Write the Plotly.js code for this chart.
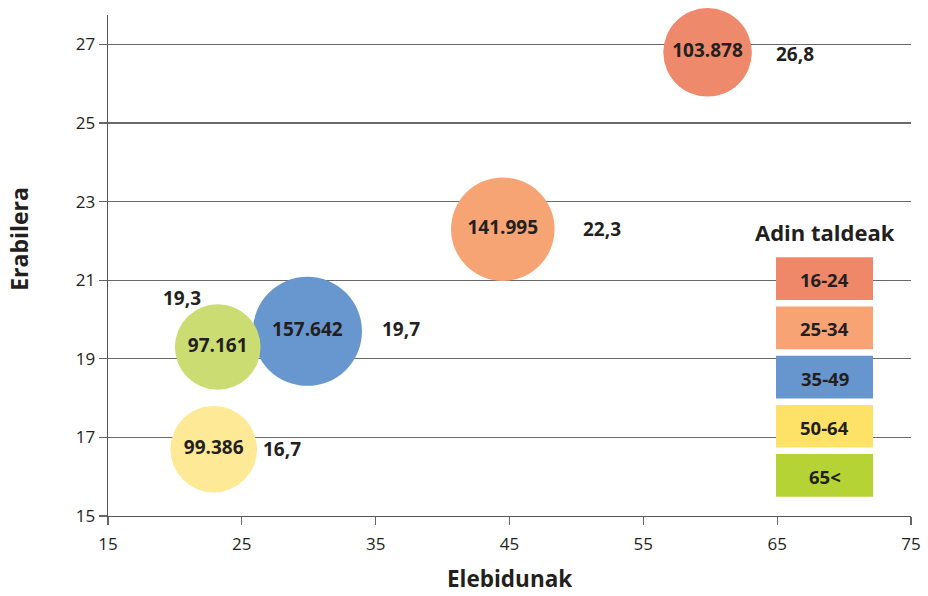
<!DOCTYPE html>
<html>
<head>
<meta charset="utf-8">
<script src="https://cdn.plot.ly/plotly-3.0.1.min.js"></script>
<style>
html,body{margin:0;padding:0;background:#fff;}
#chart{width:928px;height:596px;}
</style>
</head>
<body>
<div id="chart"></div>
<script>
// ---- data ----
const groups = ['16-24', '25-34', '35-49', '50-64', '65<'];
const elebidunak = [59.8, 44.5, 29.9, 22.9, 23.2];
const erabilera = [26.8, 22.3, 19.7, 16.7, 19.3];
const population = [103878, 141995, 157642, 99386, 97161];

// ---- style ----
const bubbleColors = ['#EE8A6B', '#F7A475', '#6896CE', '#FEEA96', '#CADC72'];
const legendColors = ['#EE8868', '#F7A374', '#6795CD', '#FEE268', '#B5D334'];
const labelShift = [[87, -2], [99, 0], [94, 2], [68, 0], [-36, 49]];
const txt = '#231F20';
const FONT = 'Open Sans, Noto Sans, sans-serif';

function fmtThousands(v) {
  return String(v).replace(/\B(?=(\d{3})+(?!\d))/g, '.');
}
function fmtDecimal(v) {
  return v.toFixed(1).replace('.', ',');
}

const trace = {
  type: 'scatter',
  mode: 'markers+text',
  x: elebidunak,
  y: erabilera,
  text: population.map(fmtThousands),
  textposition: 'middle center',
  textfont: {family: FONT, size: 19, color: txt, weight: 'bold'},
  marker: {
    size: population,
    sizemode: 'area',
    sizeref: 26.5,
    color: bubbleColors,
    opacity: 1,
    line: {width: 0}
  },
  hoverinfo: 'skip',
  cliponaxis: false,
  showlegend: false
};

const annotations = [];
groups.forEach((g, i) => {
  annotations.push({
    x: elebidunak[i], y: erabilera[i], xref: 'x', yref: 'y',
    xanchor: 'center', yanchor: 'middle',
    text: '<b>' + fmtDecimal(erabilera[i]) + '</b>',
    showarrow: false,
    xshift: labelShift[i][0], yshift: labelShift[i][1],
    font: {family: FONT, size: 19, color: txt}
  });
});

// Axis titles
annotations.push({
  xref: 'paper', yref: 'paper', x: 0.5, y: -0.124, xanchor: 'center', yanchor: 'middle',
  text: '<b>Elebidunak</b>', showarrow: false,
  font: {family: FONT, size: 22.5, color: txt}
});
annotations.push({
  xref: 'paper', yref: 'paper', x: -0.111, y: 0.553, xanchor: 'center', yanchor: 'middle',
  text: '<b>Erabilera</b>', showarrow: false, textangle: -90,
  font: {family: FONT, size: 23, color: txt}
});

// Custom legend (paper coordinates)
const plotL = 108, plotW = 803, plotT = 15, plotH = 501;
const px2x = p => (p - plotL) / plotW;
const px2y = p => (plotT + plotH - p) / plotH;
const boxL = 776, boxR = 873, boxTop0 = 257.3, boxH = 42.7, boxPitch = 49.2;
const shapes = [];
annotations.push({
  xref: 'paper', yref: 'paper', x: px2x((boxL + boxR) / 2), y: px2y(232),
  xanchor: 'center', yanchor: 'middle', text: '<b>Adin taldeak</b>', showarrow: false,
  font: {family: FONT, size: 22, color: txt}
});
groups.forEach((g, i) => {
  const top = boxTop0 + i * boxPitch;
  shapes.push({
    type: 'rect', xref: 'paper', yref: 'paper', layer: 'above',
    x0: px2x(boxL), x1: px2x(boxR), y0: px2y(top + boxH), y1: px2y(top),
    fillcolor: legendColors[i], line: {width: 0}
  });
  annotations.push({
    xref: 'paper', yref: 'paper', x: px2x((boxL + boxR) / 2), y: px2y(top + boxH / 2 + 1),
    xanchor: 'center', yanchor: 'middle', text: '<b>' + g + '</b>', showarrow: false,
    font: {family: FONT, size: 18.5, color: txt}
  });
});

const layout = {
  width: 928, height: 596,
  margin: {l: plotL, r: 928 - plotL - plotW, t: plotT, b: 596 - plotT - plotH, pad: 0},
  paper_bgcolor: '#fff', plot_bgcolor: '#fff',
  showlegend: false,
  xaxis: {
    range: [15, 75], tickvals: [15, 25, 35, 45, 55, 65, 75],
    showgrid: false, zeroline: false,
    showline: true, linecolor: '#555', linewidth: 1.3,
    ticks: 'outside', ticklen: 8, tickcolor: '#666', tickwidth: 1.3,
    ticklabelstandoff: 4,
    tickfont: {family: FONT, size: 17, color: txt},
    fixedrange: true
  },
  yaxis: {
    range: [15, 27.75], tickvals: [15, 17, 19, 21, 23, 25, 27],
    showgrid: true, gridcolor: '#6a6a6a', gridwidth: 1.3,
    zeroline: false,
    showline: true, linecolor: '#555', linewidth: 1.3,
    ticks: 'outside', ticklen: 8, tickcolor: '#666', tickwidth: 1.3,
    tickfont: {family: FONT, size: 17, color: txt},
    fixedrange: true
  },
  shapes: shapes,
  annotations: annotations
};

Plotly.newPlot('chart', [trace], layout, {displayModeBar: false, staticPlot: true});
</script>
</body>
</html>
